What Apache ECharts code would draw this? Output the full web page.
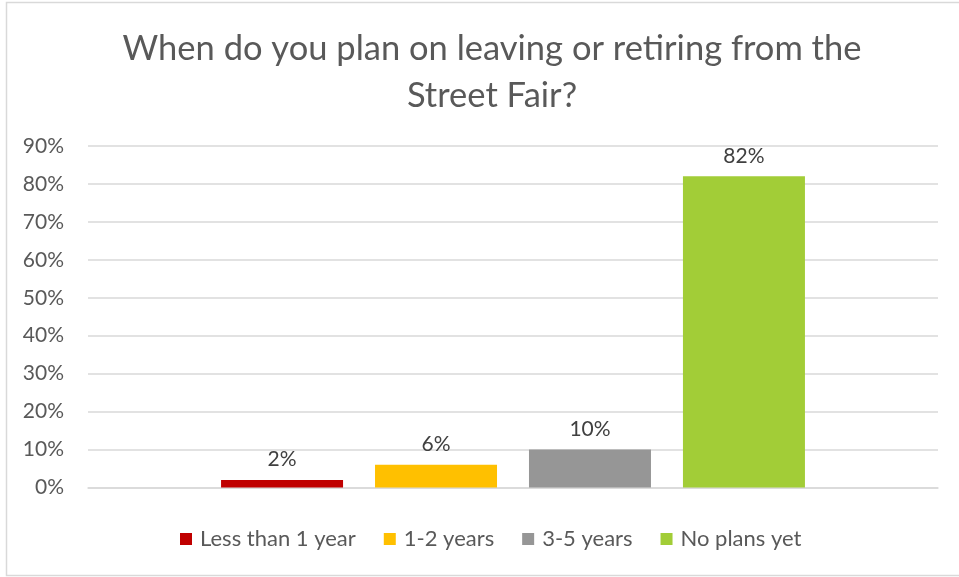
<!DOCTYPE html>
<html>
<head>
<meta charset="utf-8">
<script src="https://cdn.jsdelivr.net/npm/echarts@6/dist/echarts.min.js"></script>
<style>
  html, body { margin: 0; padding: 0; background: #fff; }
  #chart { width: 959px; height: 577px; }
</style>
</head>
<body>
<div id="chart"></div>
<script>
// Survey answers: planned time before leaving/retiring
const titleLines = ['When do you plan on leaving or retiring from the', 'Street Fair?'];
const seriesNames = ['Less than 1 year', '1-2 years', '3-5 years', 'No plans yet'];
const seriesValues = [2, 6, 10, 82];
const seriesColors = ['#C00000', '#FFC000', '#969696', '#A2CD37'];
const yTicks = { min: 0, max: 90, interval: 10 };

const FONT = 'Lato, "Open Sans", sans-serif';

const chart = echarts.init(document.getElementById('chart'), null, { renderer: 'canvas' });

const series = seriesNames.map((name, i) => ({
  name: name,
  type: 'bar',
  data: [seriesValues[i]],
  barWidth: 122,
  barGap: '26.2%',
  itemStyle: { color: seriesColors[i] },
  label: {
    show: true,
    position: 'top',
    distance: 10,
    formatter: p => p.value + '%',
    color: '#404040',
    fontFamily: FONT,
    fontSize: 21
  }
}));

chart.setOption({
  animation: false,
  backgroundColor: '#fff',
  graphic: [{
    type: 'rect',
    shape: { x: 6.5, y: 2.5, width: 1000, height: 573 },
    style: { fill: 'none', stroke: '#d9d9d9', lineWidth: 1.5 },
    silent: true,
    z: -10
  }],
  title: {
    text: titleLines.join('\n'),
    left: 487,
    top: 20,
    textAlign: 'center',
    textStyle: {
      fontFamily: FONT,
      fontWeight: 'normal',
      fontSize: 34.5,
      lineHeight: 47,
      color: '#595959'
    }
  },
  grid: { left: 88, right: 21, top: 146, bottom: 89.5, containLabel: false },
  legend: {
    data: seriesNames,
    top: 523,
    left: 175,
    itemWidth: 12,
    itemHeight: 12,
    itemGap: 28,
    icon: 'rect',
    textStyle: { fontFamily: FONT, fontSize: 22, color: '#595959', padding: [0, 0, 0, 3] }
  },
  xAxis: {
    type: 'category',
    data: [''],
    axisLine: { show: true, lineStyle: { color: '#d9d9d9', width: 1.5 } },
    axisTick: { show: false },
    axisLabel: { show: false }
  },
  yAxis: {
    type: 'value',
    min: yTicks.min,
    max: yTicks.max,
    interval: yTicks.interval,
    axisLine: { show: false },
    axisTick: { show: false },
    axisLabel: {
      formatter: v => v + '%',
      fontFamily: FONT,
      fontSize: 21,
      color: '#595959',
      margin: 24
    },
    splitLine: { lineStyle: { color: '#d9d9d9', width: 1.5 } }
  },
  series: series
});
</script>
</body>
</html>
